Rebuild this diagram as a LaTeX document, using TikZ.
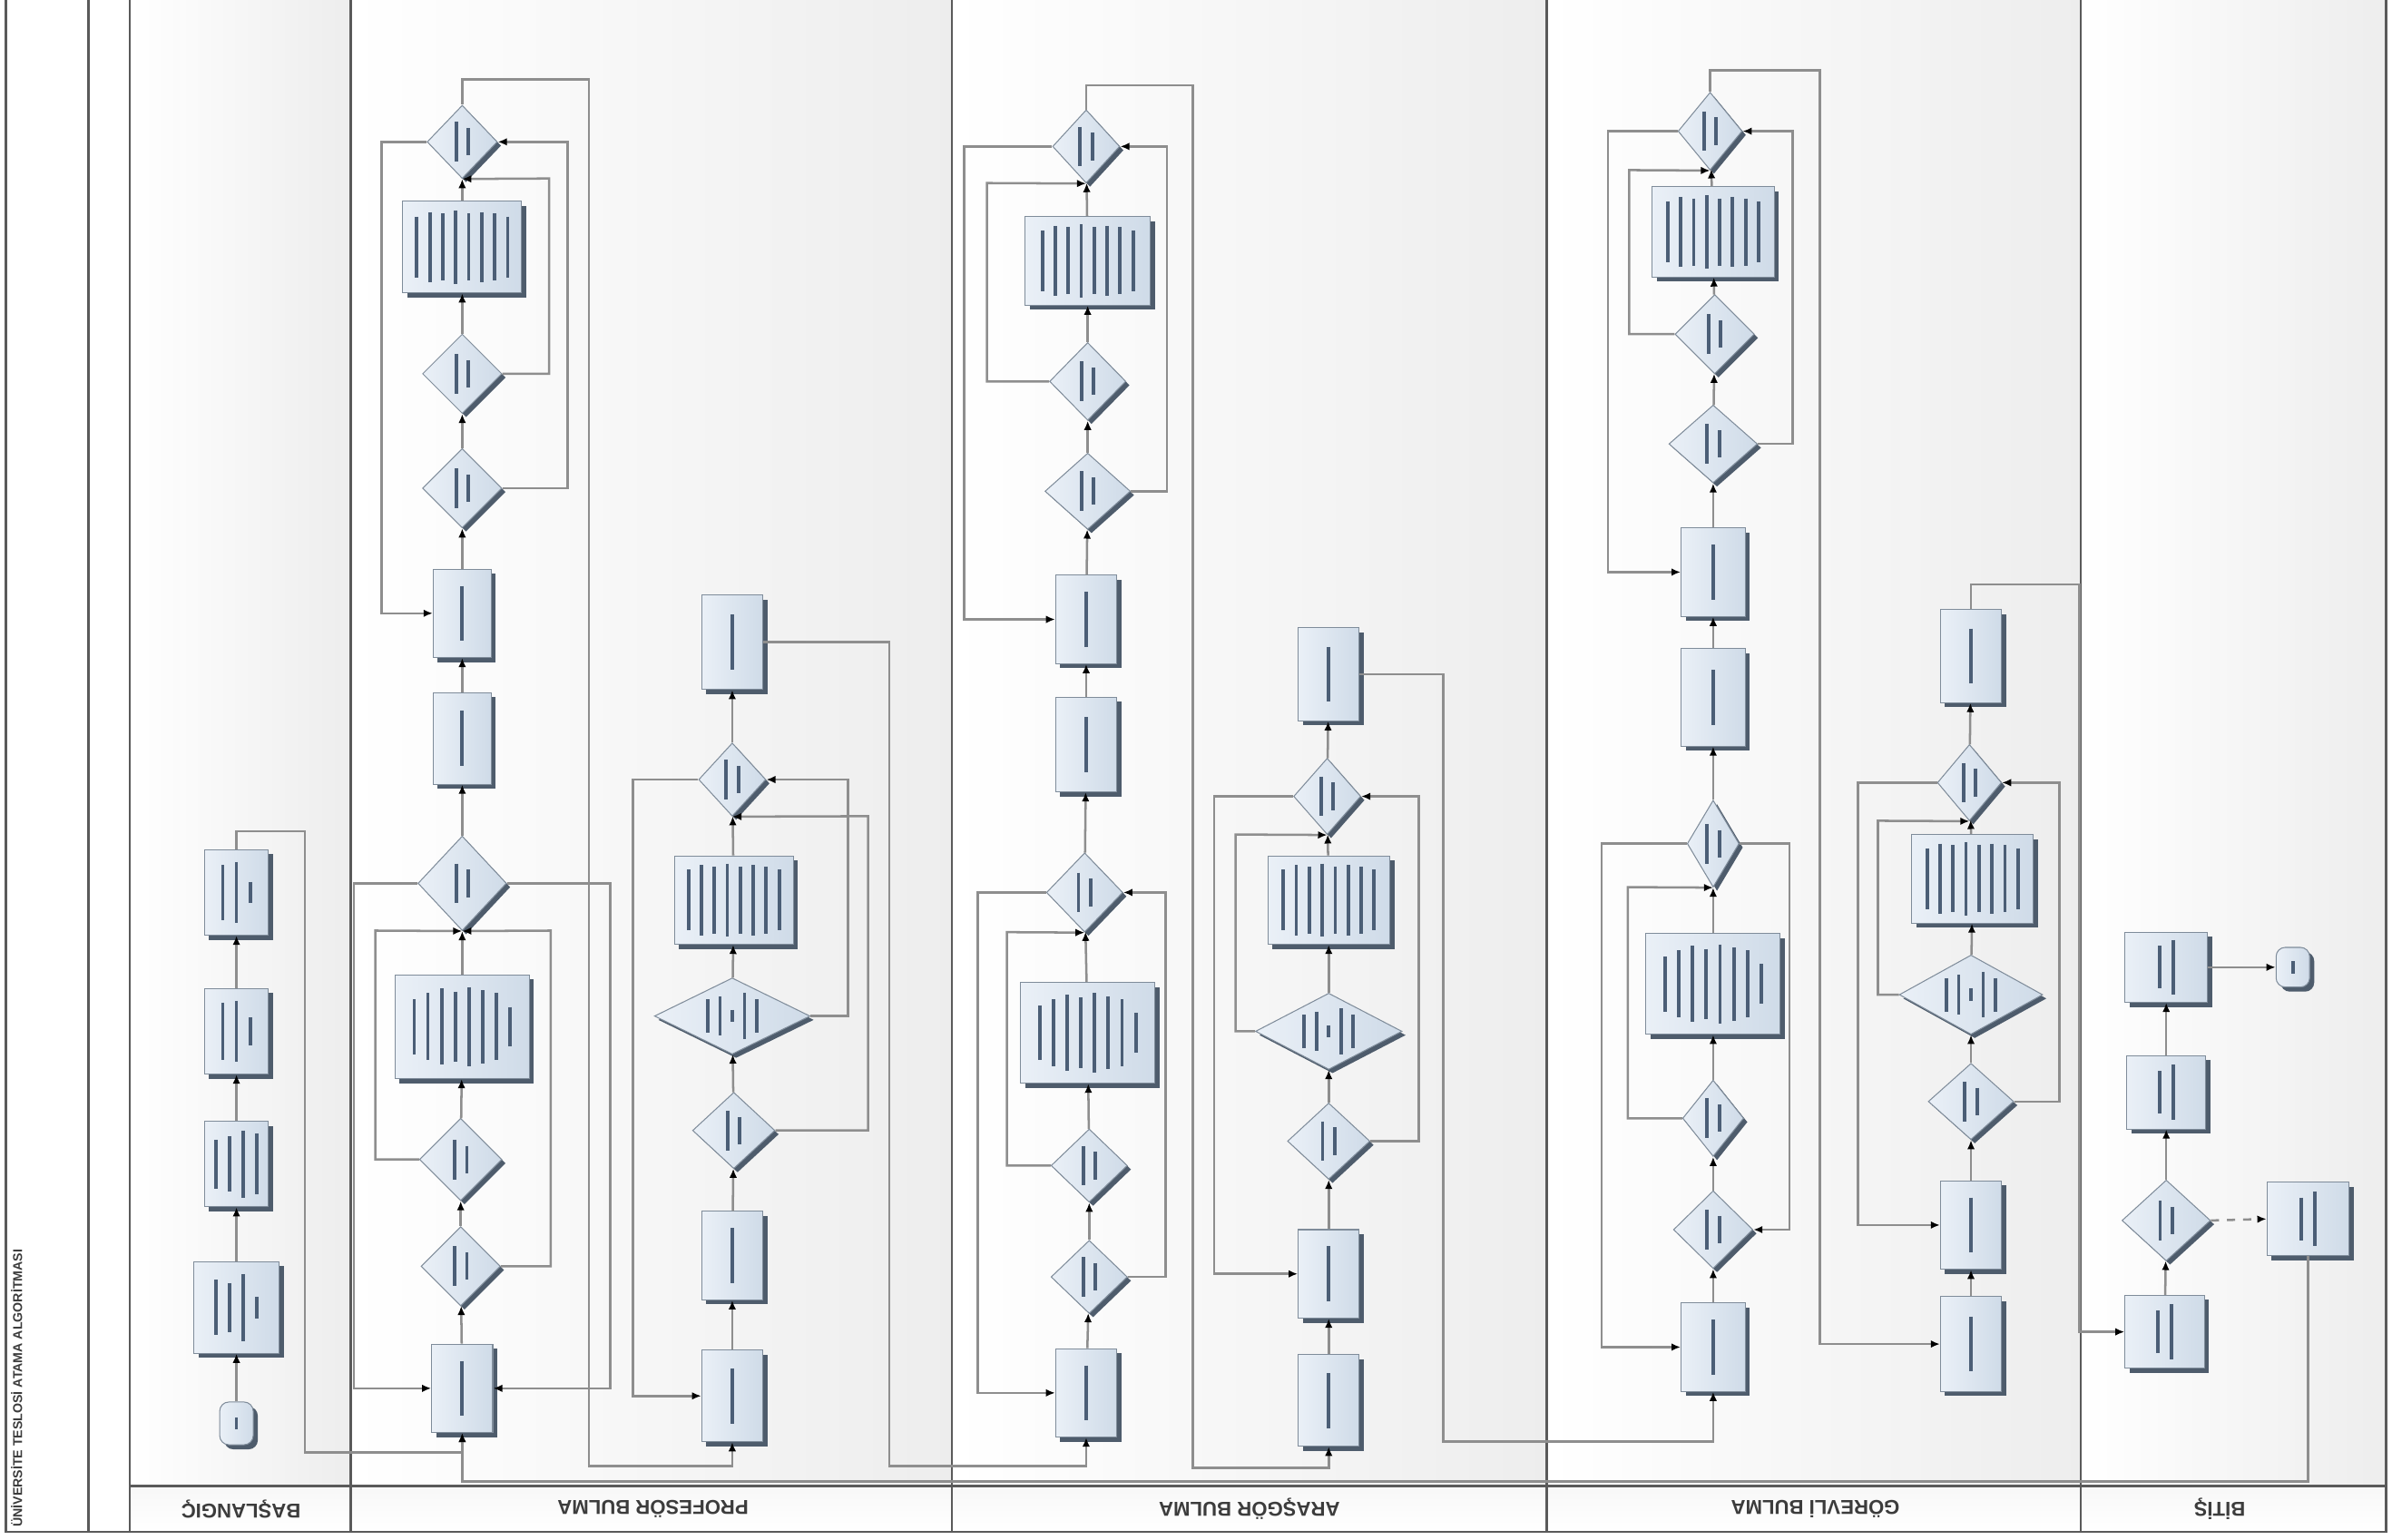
\documentclass[tikz,border=0pt]{standalone}
\usepackage{fontspec}
\setmainfont{Liberation Sans}
\usetikzlibrary{shapes.geometric,arrows.meta,shadows,calc}
\definecolor{linec}{HTML}{8E8E8E}
\definecolor{lanec}{HTML}{5A5A5A}
\definecolor{boxline}{HTML}{7F8C9A}
\definecolor{boxl}{HTML}{EAF0F7}
\definecolor{boxr}{HTML}{CFDBE8}
\definecolor{shadowc}{HTML}{4E5C6C}
\definecolor{txtc}{HTML}{4B5E76}
\definecolor{hdrc}{HTML}{3C3C3C}
\tikzset{
  sz/.style 2 args={minimum width=#1*0.2mm, minimum height=#2*0.2mm},
  bx/.style={rectangle, draw=boxline, line width=0.35pt, left color=boxl, right color=boxr, inner sep=0pt,
    drop shadow={shadow xshift=0.6mm, shadow yshift=-0.6mm, fill=shadowc, opacity=1}},
  dia/.style={diamond, draw=boxline, line width=0.35pt, left color=boxl, right color=boxr, inner sep=0pt,
    drop shadow={shadow xshift=0.5mm, shadow yshift=-0.5mm, fill=shadowc, opacity=1}},
  ev/.style={bx, rounded corners=1.2mm},
  conn/.style={draw=linec, line width=0.3mm, -{Latex[length=1.2mm,width=1mm,color=black]}},
  dconn/.style={conn, dashed},
  tbar/.style={draw=txtc, line width=0.45mm},
  lane/.style={draw=lanec, line width=0.3mm},
  hdr/.style={font=\fontsize{7.5}{8}\selectfont\bfseries, text=hdrc, rotate=180}
}
\newcommand\txb[4]{%
  \foreach \l [count=\i] in {#4}{%
    \draw[tbar] ($(#1.center)+({(\i-(#3+1)/2)*#2},{-\l/2})$) -- ++(0,\l);}}
\begin{document}
\begin{tikzpicture}[x=0.2mm,y=-0.2mm]
\useasboundingbox (0,0) rectangle (1568,1009);
\fill[white] (0,0) rectangle (1568,1009);
% lanes
\shade[left color=white, right color=gray!14] (85,0) rectangle (230,974);
\shade[left color=white, right color=gray!14] (230,0) rectangle (624,974);
\shade[left color=white, right color=gray!14] (624,0) rectangle (1014,974);
\shade[left color=white, right color=gray!14] (1014,0) rectangle (1364,974);
\shade[left color=white, right color=gray!14] (1364,0) rectangle (1564,974);
\shade[top color=gray!6, bottom color=white] (85,974) rectangle (1564,1004);
\draw[lane] (4,0) -- (4,1004) -- (1564,1004) -- (1564,0);
\foreach \xx in {58,85,230,624,1014,1364} \draw[lane] (\xx,0) -- (\xx,1004);
\draw[lane] (85,974) -- (1564,974);
% headers
\node[font=\fontsize{4.8}{5}\selectfont\bfseries, text=hdrc, rotate=90] (title) at (11,910) {ÜNİVERSİTE TESLOSİ ATAMA ALGORİTMASI};
\node[hdr] (lh1) at (158,989) {BAŞLANGIÇ};
\node[hdr] (lh2) at (428,989) {PROFESÖR BULMA};
\node[hdr] (lh3) at (819,989) {ARAŞGÖR BULMA};
\node[hdr] (lh4) at (1190,989) {GÖREVLİ BULMA};
\node[hdr] (lh5) at (1455,989) {BİTİŞ};

% ---------- lane 1
\node[ev, sz={22}{28}] (st) at (155,933) {};
\node[bx, sz={56}{60}] (b1) at (155,857) {};
\node[bx, sz={42}{56}] (b2) at (155,763) {};
\node[bx, sz={42}{56}] (b3) at (155,676) {};
\node[bx, sz={42}{56}] (b4) at (155,585) {};
% ---------- lane 2 col A
\node[bx, sz={40}{58}] (p1) at (303,910) {};
\node[dia, sz={52}{52}] (d1) at (302,830) {};
\node[dia, sz={54}{54}] (d2) at (302,760) {};
\node[bx, sz={88}{68}] (p2) at (303,673) {};
\node[dia, sz={58}{62}] (d3) at (303,579) {};
\node[bx, sz={38}{60}] (p3) at (303,484) {};
\node[bx, sz={38}{58}] (p4) at (303,402) {};
\node[dia, sz={52}{52}] (d4) at (303,320) {};
\node[dia, sz={52}{52}] (d5) at (303,245) {};
\node[bx, sz={78}{60}] (p5) at (303,162) {};
\node[dia, sz={46}{48}] (d6) at (303,93) {};
% ---------- lane 2 col B
\node[bx, sz={40}{60}] (q1) at (480,915) {};
\node[bx, sz={40}{58}] (q2) at (480,823) {};
\node[dia, sz={54}{50}] (e1) at (481,741) {};
\node[dia, sz={102}{50}] (e2) at (480,666) {};
\node[bx, sz={78}{58}] (q3) at (481,590) {};
\node[dia, sz={44}{48}] (e3) at (480,511) {};
\node[bx, sz={40}{62}] (q4) at (480,421) {};
% ---------- lane 3 col C
\node[bx, sz={40}{58}] (r1) at (712,913) {};
\node[dia, sz={50}{48}] (f1) at (714,837) {};
\node[dia, sz={50}{48}] (f2) at (714,764) {};
\node[bx, sz={88}{66}] (r2) at (713,677) {};
\node[dia, sz={50}{52}] (f3) at (711,585) {};
\node[bx, sz={40}{62}] (r3) at (712,488) {};
\node[bx, sz={40}{58}] (r4) at (712,406) {};
\node[dia, sz={56}{50}] (f4) at (713,322) {};
\node[dia, sz={50}{51}] (f5) at (713,250) {};
\node[bx, sz={82}{58}] (r5) at (713,171) {};
\node[dia, sz={44}{48}] (f6) at (712,96) {};
% ---------- lane 3 col D
\node[bx, sz={40}{60}] (s1) at (871,918) {};
\node[bx, sz={40}{58}] (s2) at (871,835) {};
\node[dia, sz={54}{50}] (g1) at (871,748) {};
\node[dia, sz={96}{50}] (g2) at (871,676) {};
\node[bx, sz={80}{58}] (s3) at (871,590) {};
\node[dia, sz={44}{50}] (g3) at (870,522) {};
\node[bx, sz={40}{61}] (s4) at (871,442) {};
% ---------- lane 4 col E
\node[bx, sz={42}{58}] (t1) at (1123,883) {};
\node[dia, sz={52}{51}] (h1) at (1123,806) {};
\node[dia, sz={40}{50}] (h2) at (1123,733) {};
\node[bx, sz={88}{66}] (t2) at (1123,645) {};
\node[dia, sz={34}{57}] (h3) at (1123,553) {};
\node[bx, sz={42}{64}] (t3) at (1123,457) {};
\node[bx, sz={42}{58}] (t4) at (1123,375) {};
\node[dia, sz={58}{51}] (h4) at (1123,291) {};
\node[dia, sz={52}{52}] (h5) at (1124,219) {};
\node[bx, sz={80}{59}] (t5) at (1123,152) {};
\node[dia, sz={42}{51}] (h6) at (1121,86) {};
% ---------- lane 4 col F
\node[bx, sz={40}{62}] (u1) at (1292,881) {};
\node[bx, sz={40}{58}] (u2) at (1292,803) {};
\node[dia, sz={56}{50}] (j1) at (1292,722) {};
\node[dia, sz={94}{52}] (j2) at (1292,652) {};
\node[bx, sz={80}{58}] (u3) at (1293,576) {};
\node[dia, sz={42}{50}] (j3) at (1291,513) {};
\node[bx, sz={40}{61}] (u4) at (1292,430) {};
% ---------- lane 5
\node[bx, sz={52}{48}] (v1) at (1419,873) {};
\node[dia, sz={58}{53}] (k1) at (1420,800) {};
\node[bx, sz={52}{48}] (v2) at (1420,716) {};
\node[bx, sz={54}{46}] (v3) at (1420,634) {};
\node[ev, sz={22}{26}] (en) at (1503,634) {};
\node[bx, sz={54}{48}] (v4) at (1513,799) {};

% ---------- text rendered as in the reference (illegible lines)
\txb{st}{0}{1}{8}
\txb{b1}{9}{4}{36,32,44,14}
\txb{b2}{9}{4}{32,36,44,40}
\txb{b3}{9}{3}{38,40,18}
\txb{b4}{9}{3}{36,40,14}
\foreach \n in {p1,p3,p4,q1,q2,q4,r1,r3,r4,s1,s2,s4,t1,t3,t4,u1,u2,u4}{\txb{\n}{0}{1}{36}}
\foreach \n in {p2,r2,t2}{\txb{\n}{9}{8}{36,44,50,46,52,48,44,26}}
\foreach \n in {p5,r5,t5,q3,s3,u3}{\txb{\n}{8.5}{8}{40,46,44,48,44,46,44,40}}
\foreach \n in {d1,d2,d3,d4,d5,d6,e1,e3,f1,f2,f3,f4,f5,f6,g1,g3,h1,h2,h3,h4,h5,h6,j1,j3,k1}{\txb{\n}{8}{2}{26,18}}
\foreach \n in {e2,g2,j2}{\txb{\n}{8}{5}{22,26,8,30,22}}
\foreach \n in {v1,v2,v3,v4}{\txb{\n}{9}{2}{28,36}}
\txb{en}{0}{1}{8}

% ---------- connectors lane 1
\draw[conn] (st) -- (b1);
\draw[conn] (b1) -- (b2);
\draw[conn] (b2) -- (b3);
\draw[conn] (b3) -- (b4);
\draw[conn] (b4.north) -- (155,545) -| (200,952) -| (p1.south);
% lane 2 col A
\draw[conn] (p1) -- (d1);
\draw[conn] (d1) -- (d2);
\draw[conn] (d2) -- (p2);
\draw[conn] (p2) -- (d3);
\draw[conn] (d3) -- (p3);
\draw[conn] (p3) -- (p4);
\draw[conn] (p4) -- (d4);
\draw[conn] (d4) -- (d5);
\draw[conn] (d5) -- (p5);
\draw[conn] (p5) -- (d6);
\draw[conn] (d3.west) -| (232,910) -- (p1.west);
\draw[conn] (d3.east) -| (400,910) -- (p1.east);
\draw[conn] (d2.west) -| (246,610) -- (d3.south);
\draw[conn] (d1.east) -| (361,610) -- (d3.south);
\draw[conn] (d6.west) -| (250,402) -- (p4.west);
\draw[conn] (d4.east) -| (372,93) -- (d6.east);
\draw[conn] (d5.east) -| (360,117) -- (d6.south);
\draw[conn] (d6.north) |- (386,52) -- (386,961) -| (q1.south);
% lane 2 col B
\draw[conn] (q1) -- (q2);
\draw[conn] (q2) -- (e1);
\draw[conn] (e1) -- (e2);
\draw[conn] (e2) -- (q3);
\draw[conn] (q3) -- (e3);
\draw[conn] (e3) -- (q4);
\draw[conn] (e3.west) -| (415,915) -- (q1.west);
\draw[conn] (e2.east) -| (556,511) -- (e3.east);
\draw[conn] (e1.east) -| (569,535) -- (e3.south);
\draw[conn] (q4.east) -| (583,961) -| (r1.south);
% lane 3 col C
\draw[conn] (r1) -- (f1);
\draw[conn] (f1) -- (f2);
\draw[conn] (f2) -- (r2);
\draw[conn] (r2) -- (f3);
\draw[conn] (f3) -- (r3);
\draw[conn] (r3) -- (r4);
\draw[conn] (r4) -- (f4);
\draw[conn] (f4) -- (f5);
\draw[conn] (f5) -- (r5);
\draw[conn] (r5) -- (f6);
\draw[conn] (f3.west) -| (641,913) -- (r1.west);
\draw[conn] (f1.east) -| (764,585) -- (f3.east);
\draw[conn] (f2.west) -| (660,611) -- (f3.south);
\draw[conn] (f6.west) -| (632,406) -- (r4.west);
\draw[conn] (f4.east) -| (765,96) -- (f6.east);
\draw[conn] (f5.west) -| (647,120) -- (f6.south);
\draw[conn] (f6.north) |- (782,56) -- (782,962) -| (s1.south);
% lane 3 col D
\draw[conn] (s1) -- (s2);
\draw[conn] (s2) -- (g1);
\draw[conn] (g1) -- (g2);
\draw[conn] (g2) -- (s3);
\draw[conn] (s3) -- (g3);
\draw[conn] (g3) -- (s4);
\draw[conn] (g3.west) -| (796,835) -- (s2.west);
\draw[conn] (g1.east) -| (930,522) -- (g3.east);
\draw[conn] (g2.west) -| (810,547) -- (g3.south);
\draw[conn] (s4.east) -| (946,945) -| (t1.south);
% lane 4 col E
\draw[conn] (t1) -- (h1);
\draw[conn] (h1) -- (h2);
\draw[conn] (h2) -- (t2);
\draw[conn] (t2) -- (h3);
\draw[conn] (h3) -- (t3);
\draw[conn] (t3) -- (t4);
\draw[conn] (t4) -- (h4);
\draw[conn] (h4) -- (h5);
\draw[conn] (h5) -- (t5);
\draw[conn] (t5) -- (h6);
\draw[conn] (h3.west) -| (1050,883) -- (t1.west);
\draw[conn] (h3.east) -| (1173,806) -- (h1.east);
\draw[conn] (h2.west) -| (1067,581.5) -- (h3.south);
\draw[conn] (h6.west) -| (1054,375) -- (t4.west);
\draw[conn] (h5.west) -| (1068,111.5) -- (h6.south);
\draw[conn] (h4.east) -| (1175,86) -- (h6.east);
\draw[conn] (h6.north) |- (1193,46) |- (u1.west);
% lane 4 col F
\draw[conn] (u1) -- (u2);
\draw[conn] (u2) -- (j1);
\draw[conn] (j1) -- (j2);
\draw[conn] (j2) -- (u3);
\draw[conn] (u3) -- (j3);
\draw[conn] (j3) -- (u4);
\draw[conn] (j3.west) -| (1218,803) -- (u2.west);
\draw[conn] (j1.east) -| (1350,513) -- (j3.east);
\draw[conn] (j2.west) -| (1231,538) -- (j3.south);
\draw[conn] (u4.north) |- (1363,383) |- (v1.west);
% lane 5
\draw[conn] (v1) -- (k1);
\draw[conn] (k1) -- (v2);
\draw[conn] (v2) -- (v3);
\draw[conn] (v3) -- (en);
\draw[dconn] (k1.east) -- (v4.west);
\draw[conn] (v4.south) |- (303,971) -- (p1.south);
\end{tikzpicture}
\end{document}
